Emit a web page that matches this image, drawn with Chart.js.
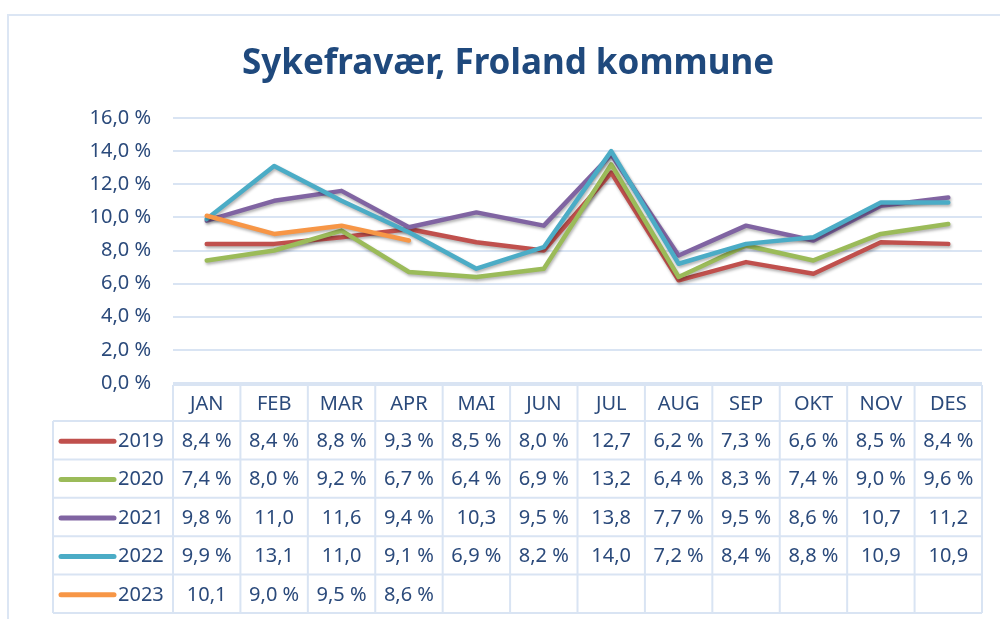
<!DOCTYPE html>
<html>
<head>
<meta charset="utf-8">
<script src="https://cdn.jsdelivr.net/npm/chart.js@4.4.1/dist/chart.umd.min.js"></script>
<style>
  html, body { margin: 0; background: #fff; }
  #wrap { width: 1000px; height: 619px; }
</style>
</head>
<body>
<div id="wrap"><canvas id="c" width="1000" height="619"></canvas></div>
<script>
// Sykefravær per måned, tall lest fra datatabellen under grafen
const months = ["JAN", "FEB", "MAR", "APR", "MAI", "JUN", "JUL", "AUG", "SEP", "OKT", "NOV", "DES"];
const years = ["2019", "2020", "2021", "2022", "2023"];
const v2019 = [8.4, 8.4, 8.8, 9.3, 8.5, 8.0, 12.7, 6.2, 7.3, 6.6, 8.5, 8.4];
const v2020 = [7.4, 8.0, 9.2, 6.7, 6.4, 6.9, 13.2, 6.4, 8.3, 7.4, 9.0, 9.6];
const v2021 = [9.8, 11.0, 11.6, 9.4, 10.3, 9.5, 13.8, 7.7, 9.5, 8.6, 10.7, 11.2];
const v2022 = [9.9, 13.1, 11.0, 9.1, 6.9, 8.2, 14.0, 7.2, 8.4, 8.8, 10.9, 10.9];
const v2023 = [10.1, 9.0, 9.5, 8.6, null, null, null, null, null, null, null, null];
const yTicks = [0, 2, 4, 6, 8, 10, 12, 14, 16];

const colors = ["#C0504D", "#9BBB59", "#8064A2", "#4BACC6", "#F79646"];
const series = [v2019, v2020, v2021, v2022, v2023];

const TXT = "#2B4A7B";
const LINE = "#D9E4F3";
const FONT = "'Noto Sans', sans-serif";

// Excel viser "11,0" uten prosenttegn når cellen blir for smal
const fmt = (v) => {
  const s = v.toFixed(1).replace(".", ",");
  return v >= 10 ? s : s + " %";
};

// ramme + tittel
const framePlugin = {
  id: "frame",
  beforeDraw(chart) {
    const ctx = chart.ctx;
    ctx.save();
    ctx.strokeStyle = "#DCE6F4";
    ctx.lineWidth = 2;
    ctx.beginPath();
    ctx.moveTo(8, 625);
    ctx.lineTo(8, 15);
    ctx.lineTo(1005, 15);
    ctx.stroke();
    ctx.fillStyle = "#1F497D";
    ctx.font = "bold 35px " + FONT;
    ctx.textAlign = "center";
    ctx.textBaseline = "alphabetic";
    ctx.fillText("Sykefravær, Froland kommune", 508, 74);
    ctx.restore();
  }
};

// skygge under linjene som i Excel
const shadowPlugin = {
  id: "shadow",
  beforeDatasetDraw(chart) {
    const ctx = chart.ctx;
    ctx.save();
    ctx.shadowColor = "rgba(0,0,0,0.3)";
    ctx.shadowBlur = 3;
    ctx.shadowOffsetX = 1;
    ctx.shadowOffsetY = 2;
  },
  afterDatasetDraw(chart) {
    chart.ctx.restore();
  }
};

// datatabell under plottet, kolonner fra x-skalaen
const tablePlugin = {
  id: "datatable",
  afterDraw(chart) {
    const ctx = chart.ctx;
    const x = chart.scales.x;
    const area = chart.chartArea;
    const colW = (area.right - area.left) / months.length;
    const top = area.bottom + 2;
    const headH = 36;
    const rowH = 38.4;
    const legL = 53;
    const bottom = top + headH + rowH * years.length;

    ctx.save();
    ctx.strokeStyle = LINE;
    ctx.lineWidth = 2;
    ctx.beginPath();
    // header
    ctx.moveTo(area.left, top);
    ctx.lineTo(area.right, top);
    // rad-linjer
    for (let r = 0; r <= years.length; r++) {
      const y = top + headH + r * rowH;
      ctx.moveTo(legL, y);
      ctx.lineTo(area.right, y);
    }
    // kolonne-linjer
    for (let i = 0; i <= months.length; i++) {
      const xx = area.left + i * colW;
      ctx.moveTo(xx, top);
      ctx.lineTo(xx, bottom);
    }
    ctx.moveTo(legL, top + headH);
    ctx.lineTo(legL, bottom);
    ctx.stroke();

    ctx.font = "20px " + FONT;
    ctx.fillStyle = TXT;
    ctx.textBaseline = "middle";
    ctx.textAlign = "center";
    months.forEach((m, i) => {
      ctx.fillText(m, x.getPixelForValue(i), top + headH / 2 + 1);
    });

    years.forEach((yr, r) => {
      const cy = top + headH + r * rowH + rowH / 2 + 1;
      ctx.strokeStyle = colors[r];
      ctx.lineWidth = 5;
      ctx.lineCap = "round";
      ctx.beginPath();
      ctx.moveTo(61, cy);
      ctx.lineTo(114, cy);
      ctx.stroke();
      ctx.textAlign = "left";
      ctx.fillText(yr, 118, cy);
      ctx.textAlign = "center";
      series[r].forEach((v, i) => {
        if (v == null) return;
        ctx.fillText(fmt(v), x.getPixelForValue(i), cy);
      });
    });
    ctx.restore();
  }
};

new Chart(document.getElementById("c"), {
  type: "line",
  data: {
    labels: months,
    datasets: years.map((yr, i) => ({
      label: yr,
      data: series[i],
      borderColor: colors[i],
      backgroundColor: colors[i],
      borderWidth: 4.5,
      pointRadius: 0,
      tension: 0,
      borderJoinStyle: "round",
      borderCapStyle: "round",
      order: years.length - i,
    })),
  },
  options: {
    responsive: false,
    animation: false,
    layout: { padding: { top: 118, right: 18, bottom: 236, left: 0 } },
    plugins: {
      legend: { display: false },
      title: { display: false },
      tooltip: { enabled: false },
    },
    scales: {
      x: {
        type: "category",
        offset: true,
        display: false,
      },
      y: {
        min: 0, max: 16,
        afterFit: (s) => { s.width = 173; },
        afterBuildTicks: (s) => { s.ticks = yTicks.map(v => ({ value: v })); },
        ticks: {
          padding: 22,
          color: TXT,
          font: { family: FONT, size: 20 },
          callback: (v) => v.toFixed(1).replace(".", ",") + " %",
        },
        grid: { color: LINE, lineWidth: 2, drawTicks: false },
        border: { display: false },
      },
    },
  },
  plugins: [framePlugin, shadowPlugin, tablePlugin],
});
</script>
</body>
</html>
